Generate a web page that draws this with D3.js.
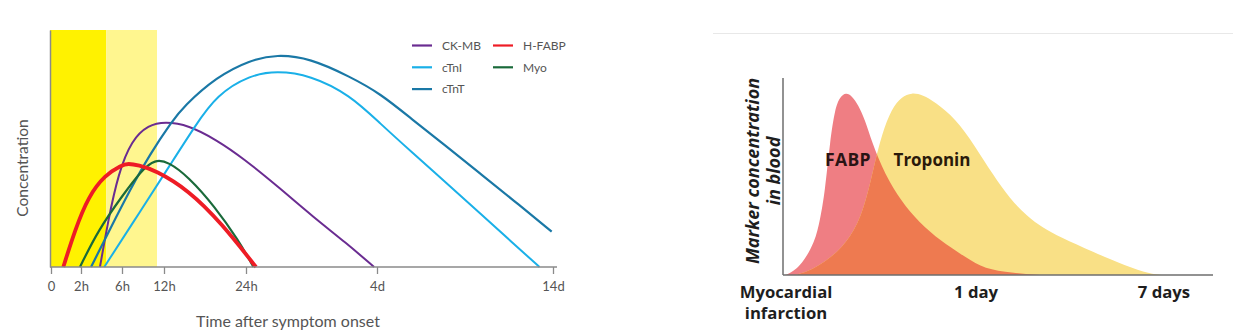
<!DOCTYPE html>
<html>
<head>
<meta charset="utf-8">
<script src="https://cdn.jsdelivr.net/npm/d3@7"></script>
<style>
  html, body { margin: 0; padding: 0; background: #fff; }
  svg { display: block; }
</style>
</head>
<body>
<svg id="chart" width="1233" height="336"></svg>
<script>
// ---------- LEFT CHART DATA ----------
const leftTickLabels = ["0", "2h", "6h", "12h", "24h", "4d", "14d"];
const leftTickHours = [0, 2, 6, 12, 24, 96, 336];
const leftSeriesNames = ["CK-MB", "cTnI", "cTnT", "H-FABP", "Myo"];
const leftBandHours = [[0, 4.45], [4.45, 11]];

const ckmbHours  = [3.85, 4.66, 5.64, 7.39, 9.76, 12.15, 15.56, 19.71, 23.6, 42.7, 60.8, 79.3, 94.4];
const ckmbValues = [0, 19.8, 39.5, 53.6, 59.9, 61.3, 59.9, 53.6, 45.9, 33.2, 21.2, 10.0, 0];

const ctniHours  = [4.27, 8.57, 12.88, 16.54, 19.71, 26.2, 40.87, 59.18, 81.16, 100.1, 145.1, 191.0, 236.5, 281.5, 317.6];
const ctniValues = [0, 23.3, 43.0, 59.5, 72.6, 81.0, 82.7, 81.0, 72.6, 60.6, 48.0, 35.3, 22.7, 10.0, 0];

const ctntHours  = [2.98, 4.83, 7.14, 10.0, 13.13, 14.82, 19.71, 26.2, 40.87, 59.18, 81.16, 100.1, 145.1, 191.0, 236.5, 281.5, 334.2];
const ctntValues = [0, 16.0, 32.5, 47.7, 61.3, 67.6, 80.3, 87.3, 89.7, 88.1, 80.3, 73.3, 62.0, 50.8, 39.5, 28.3, 14.9];

const hfabpHours  = [0.82, 1.6, 2.71, 4.34, 5.97, 6.86, 8.33, 10.71, 15.56, 20.44, 29.5];
const hfabpValues = [0, 15.6, 29.7, 38.8, 43.0, 43.7, 43.0, 40.9, 32.5, 18.4, 0];

const myoHours  = [1.93, 3.69, 5.97, 8.81, 10.71, 12.63, 15.56, 19.46, 22.87, 28.1];
const myoValues = [0, 15.6, 29.7, 40.9, 45.4, 44.4, 38.1, 25.4, 11.4, 0];

// ---------- RIGHT CHART DATA ----------
const rightTickLabels = [["Myocardial", "infarction"], ["1 day"], ["7 days"]];
const rightTickHours = [0, 24, 168];
const rightSeriesNames = ["FABP", "Troponin"];

const fabpHours  = [0.25, 0.87, 2.33, 3.98, 4.60, 5.22, 5.84, 6.47, 7.09, 7.83, 8.58, 9.36, 10.2, 11.03, 12.68, 14.76, 16.82, 19.73, 22.01, 27.06, 44.7, 73.0];
const fabpValues = [0, 0.8, 5.1, 16.9, 27.9, 42.3, 67.7, 84.6, 90.4, 92.6, 90.9, 86.3, 78.7, 67.7, 50.8, 37.2, 27.1, 16.9, 11.0, 4.2, 1.4, 0];

const troponinHours  = [1.49, 3.11, 5.22, 7.30, 9.36, 10.61, 11.44, 12.27, 13.52, 14.76, 16.0, 17.41, 18.9, 21.39, 23.88, 37.02, 50.04, 63.06, 75.32, 88.34, 113.62, 138.9, 157.28, 166.47];
const troponinValues = [0, 1.7, 6.6, 13.6, 25.4, 42.3, 57.5, 71.1, 84.6, 90.5, 92.6, 91.4, 87.8, 79.7, 65.5, 50.8, 38.6, 29.9, 23.9, 19.3, 11.7, 4.6, 0.5, 0];

// ---------- DRAW ----------
const svg = d3.select("#chart");
const zip = (hs, vs) => hs.map((h, i) => ({ h: h, v: vs[i] }));

// Left chart
const L = { x0: 50, x1: 557, top: 30, base: 267 };
const xL = d3.scaleLinear().domain(leftTickHours).range([51, 81, 122, 164, 246, 377, 553]);
const yL = d3.scaleLinear().domain([0, 100]).range([L.base, L.top]);
const leftFont = "Lato, 'Open Sans', sans-serif";
const textGray = "#555";

const bandColors = ["#fff200", "#fff68f"];
const gL = svg.append("g");
gL.selectAll("rect.band").data(leftBandHours).join("rect")
  .attr("class", "band")
  .attr("x", (d, i) => i === 0 ? L.x0 : xL(d[0]))
  .attr("y", yL(100))
  .attr("width", (d, i) => xL(d[1]) - (i === 0 ? L.x0 : xL(d[0])))
  .attr("height", yL(0) - yL(100))
  .attr("fill", (d, i) => bandColors[i]);

const leftSeries = [
  { name: "CK-MB", color: "#6a2c91", w: 2, data: zip(ckmbHours, ckmbValues) },
  { name: "cTnI", color: "#1ab0e8", w: 2, data: zip(ctniHours, ctniValues) },
  { name: "cTnT", color: "#1a78a6", w: 2.2, data: zip(ctntHours, ctntValues) },
  { name: "Myo", color: "#1a6a3a", w: 2.2, data: zip(myoHours, myoValues) },
  { name: "H-FABP", color: "#ee1c25", w: 3.8, data: zip(hfabpHours, hfabpValues) }
];
const lineL = d3.line().x(d => xL(d.h)).y(d => yL(d.v)).curve(d3.curveBasis);
gL.selectAll("path.series").data(leftSeries).join("path")
  .attr("class", "series")
  .attr("d", d => lineL(d.data))
  .attr("fill", "none")
  .attr("stroke", d => d.color)
  .attr("stroke-width", d => d.w)
  .attr("stroke-linejoin", "round");

// axes
const axisColor = "#8a8a8a";
const xAxisL = d3.axisBottom(xL).tickValues(leftTickHours)
  .tickFormat((d, i) => leftTickLabels[i]).tickSize(7).tickPadding(8).tickSizeOuter(0);
const gx = gL.append("g").attr("transform", `translate(0,${L.base})`).call(xAxisL);
gx.select(".domain").remove();
gx.selectAll(".tick line").attr("stroke", axisColor).attr("stroke-width", 1.3);
gx.selectAll(".tick text").attr("fill", textGray).style("font-family", leftFont).style("font-size", "13px");
gL.append("line").attr("x1", L.x0).attr("x2", L.x1).attr("y1", L.base).attr("y2", L.base)
  .attr("stroke", axisColor).attr("stroke-width", 1.5);
const yAxisL = d3.axisLeft(yL).tickValues([]).tickSizeOuter(0);
const gy = gL.append("g").attr("transform", `translate(${L.x0},0)`).call(yAxisL);
gy.select(".domain").attr("stroke", axisColor).attr("stroke-width", 1.5);

gL.append("text").attr("x", 288).attr("y", 327).attr("text-anchor", "middle")
  .attr("fill", textGray).style("font-family", leftFont).style("font-size", "16px")
  .text("Time after symptom onset");
gL.append("text").attr("transform", "translate(28,168) rotate(-90)").attr("text-anchor", "middle")
  .attr("fill", textGray).style("font-family", leftFont).style("font-size", "15.5px")
  .text("Concentration");

// legend
const legendOrder = ["CK-MB", "cTnI", "cTnT", "H-FABP", "Myo"];
const legendColor = { "CK-MB": "#6a2c91", "cTnI": "#1ab0e8", "cTnT": "#1a78a6", "H-FABP": "#ee1c25", "Myo": "#1a6a3a" };
const lg = gL.selectAll("g.leg").data(legendOrder).join("g").attr("class", "leg")
  .attr("transform", (d, i) => `translate(${i < 3 ? 412 : 493},${45.5 + (i % 3) * 21.8})`);
lg.append("line").attr("x1", 0).attr("x2", 20).attr("stroke", d => legendColor[d]).attr("stroke-width", 2.2);
lg.append("text").attr("x", 30).attr("dy", "0.35em").attr("fill", textGray)
  .style("font-family", leftFont).style("font-size", "12px").text(d => d);

// Right chart
const R = { x0: 783, x1: 1213, top: 78, base: 275 };
const xR = d3.scaleLinear().domain(rightTickHours).range([783, 976, 1164]);
const yR = d3.scaleLinear().domain([0, 100]).range([R.base, R.top]);
const rightFont = "'Open Sans', sans-serif";
const gR = svg.append("g");

gR.append("line").attr("x1", 713).attr("x2", 1233).attr("y1", 33.5).attr("y2", 33.5)
  .attr("stroke", "#e8e8e8").attr("stroke-width", 1);

const areaR = d3.area().x(d => xR(d.h)).y0(yR(0)).y1(d => yR(d.v)).curve(d3.curveBasis);
const fabpData = zip(fabpHours, fabpValues);
const tropData = zip(troponinHours, troponinValues);

gR.append("clipPath").attr("id", "tropClip").append("path").attr("d", areaR(tropData));
gR.append("path").attr("d", areaR(fabpData)).attr("fill", "#ef7e83");
gR.append("path").attr("d", areaR(tropData)).attr("fill", "#f9e086");
gR.append("path").attr("d", areaR(fabpData)).attr("fill", "#ee7a50").attr("clip-path", "url(#tropClip)");

// axes
gR.append("line").attr("x1", R.x0).attr("x2", R.x1).attr("y1", R.base).attr("y2", R.base)
  .attr("stroke", "#6e6e6e").attr("stroke-width", 1.5);
gR.append("line").attr("x1", R.x0).attr("x2", R.x0).attr("y1", R.top).attr("y2", R.base)
  .attr("stroke", "#6e6e6e").attr("stroke-width", 1.5);

const tickG = gR.selectAll("g.rt").data(rightTickHours).join("g").attr("class", "rt")
  .attr("transform", (d, i) => `translate(${xR(d) + (i === 0 ? 3 : 0)},0)`);
tickG.each(function (d, i) {
  const g = d3.select(this);
  rightTickLabels[i].forEach((line, j) => {
    g.append("text").attr("x", 0).attr("y", 297.5 + j * 21).attr("text-anchor", "middle")
      .attr("fill", "#1e1e1e").style("font-family", rightFont).style("font-weight", 700)
      .style("font-size", "16.7px").text(line);
  });
});

gR.append("text").attr("x", 848).attr("y", 166).attr("text-anchor", "middle")
  .attr("fill", "#2a1414").style("font-family", rightFont).style("font-weight", 700)
  .style("font-size", "17.5px").style("letter-spacing", "0.4px").text(rightSeriesNames[0]);
gR.append("text").attr("x", 932).attr("y", 166).attr("text-anchor", "middle")
  .attr("fill", "#2a1a0a").style("font-family", rightFont).style("font-weight", 700)
  .style("font-size", "17px").text(rightSeriesNames[1]);

const yt = gR.append("text").attr("transform", "translate(759,171) rotate(-90)").attr("text-anchor", "middle")
  .attr("fill", "#1e1e1e").style("font-family", rightFont).style("font-weight", 700)
  .style("font-style", "italic").style("font-size", "18px");
yt.append("tspan").attr("x", 0).attr("dy", 0).text("Marker concentration");
yt.append("tspan").attr("x", 0).attr("dy", 21).text("in blood");
</script>
</body>
</html>
